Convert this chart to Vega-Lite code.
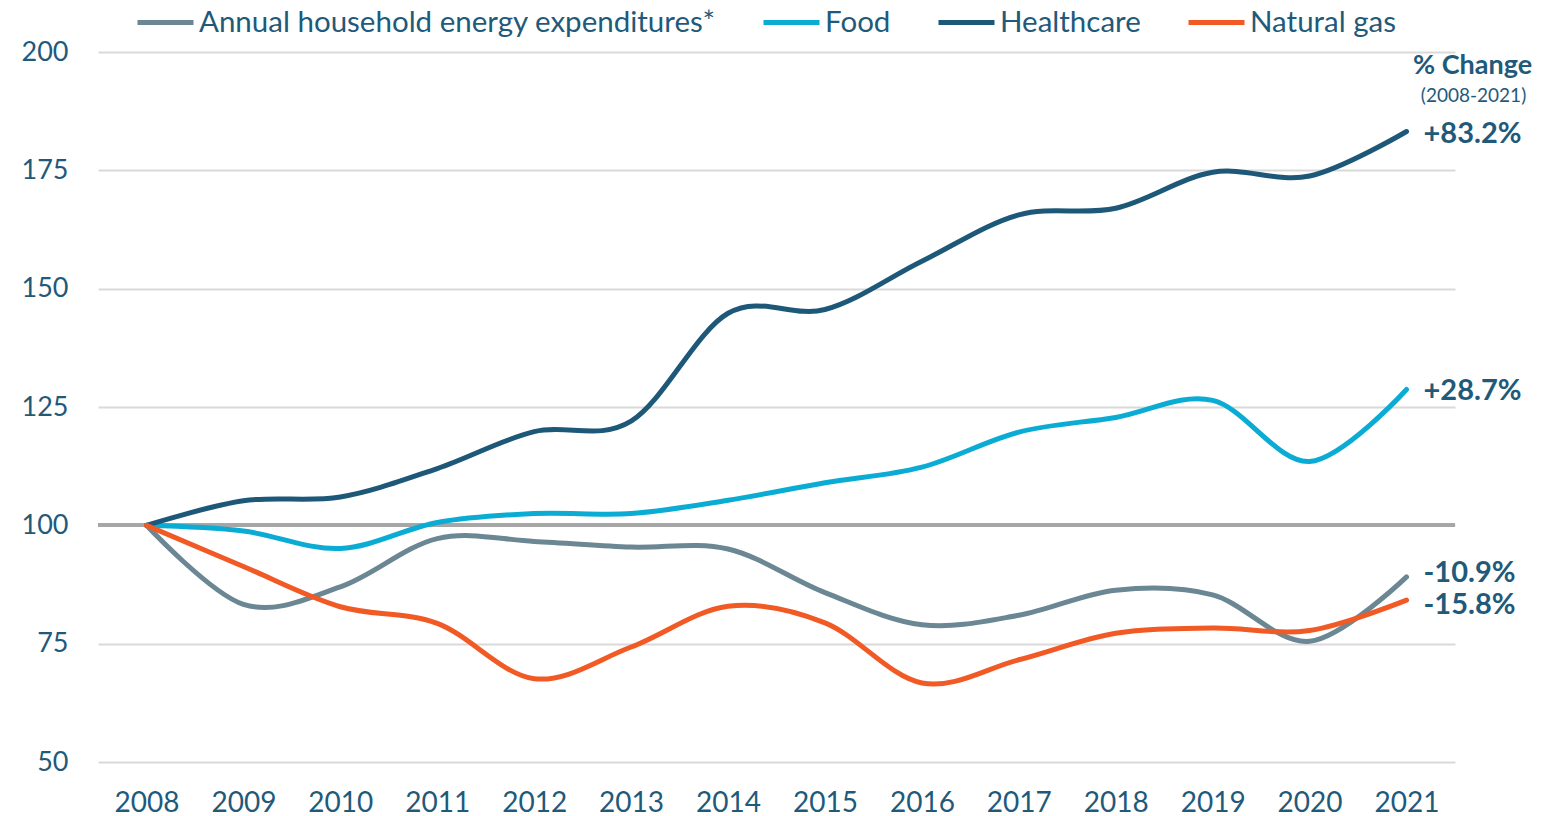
{
  "$schema": "https://vega.github.io/schema/vega-lite/v6.json",
  "width": 1357,
  "height": 710,
  "autosize": {"type": "none"},
  "padding": {"left": 98, "top": 52, "right": 100, "bottom": 54},
  "background": "white",
  "config": {
    "font": "Lato",
    "view": {"stroke": null},
    "axis": {"labelColor": "#1f5a7a", "labelFont": "Lato", "labelFontSize": 27, "ticks": false, "domain": false, "title": null}
  },
  "datasets": {
    "header": [
      {"year": "2021", "value": 197, "t": "% Change"}
    ],
    "subheader": [
      {"year": "2021", "value": 190.6, "t": "(2008-2021)"}
    ]
  },
  "data": {
    "values": [
      {"year": "2008", "series": "Annual household energy expenditures*", "value": 100, "label": ""},
      {"year": "2009", "series": "Annual household energy expenditures*", "value": 83.3, "label": ""},
      {"year": "2010", "series": "Annual household energy expenditures*", "value": 87.0, "label": ""},
      {"year": "2011", "series": "Annual household energy expenditures*", "value": 97.2, "label": ""},
      {"year": "2012", "series": "Annual household energy expenditures*", "value": 96.6, "label": ""},
      {"year": "2013", "series": "Annual household energy expenditures*", "value": 95.4, "label": ""},
      {"year": "2014", "series": "Annual household energy expenditures*", "value": 95.0, "label": ""},
      {"year": "2015", "series": "Annual household energy expenditures*", "value": 85.8, "label": ""},
      {"year": "2016", "series": "Annual household energy expenditures*", "value": 79.0, "label": ""},
      {"year": "2017", "series": "Annual household energy expenditures*", "value": 81.0, "label": ""},
      {"year": "2018", "series": "Annual household energy expenditures*", "value": 86.3, "label": ""},
      {"year": "2019", "series": "Annual household energy expenditures*", "value": 85.3, "label": ""},
      {"year": "2020", "series": "Annual household energy expenditures*", "value": 75.5, "label": ""},
      {"year": "2021", "series": "Annual household energy expenditures*", "value": 89.1, "label": "-10.9%"},
      {"year": "2008", "series": "Food", "value": 100, "label": ""},
      {"year": "2009", "series": "Food", "value": 98.8, "label": ""},
      {"year": "2010", "series": "Food", "value": 95.1, "label": ""},
      {"year": "2011", "series": "Food", "value": 100.6, "label": ""},
      {"year": "2012", "series": "Food", "value": 102.5, "label": ""},
      {"year": "2013", "series": "Food", "value": 102.5, "label": ""},
      {"year": "2014", "series": "Food", "value": 105.3, "label": ""},
      {"year": "2015", "series": "Food", "value": 109.0, "label": ""},
      {"year": "2016", "series": "Food", "value": 112.3, "label": ""},
      {"year": "2017", "series": "Food", "value": 119.7, "label": ""},
      {"year": "2018", "series": "Food", "value": 122.8, "label": ""},
      {"year": "2019", "series": "Food", "value": 126.4, "label": ""},
      {"year": "2020", "series": "Food", "value": 113.5, "label": ""},
      {"year": "2021", "series": "Food", "value": 128.7, "label": "+28.7%"},
      {"year": "2008", "series": "Healthcare", "value": 100, "label": ""},
      {"year": "2009", "series": "Healthcare", "value": 105.2, "label": ""},
      {"year": "2010", "series": "Healthcare", "value": 106.0, "label": ""},
      {"year": "2011", "series": "Healthcare", "value": 112.0, "label": ""},
      {"year": "2012", "series": "Healthcare", "value": 119.8, "label": ""},
      {"year": "2013", "series": "Healthcare", "value": 122.0, "label": ""},
      {"year": "2014", "series": "Healthcare", "value": 144.8, "label": ""},
      {"year": "2015", "series": "Healthcare", "value": 145.6, "label": ""},
      {"year": "2016", "series": "Healthcare", "value": 155.8, "label": ""},
      {"year": "2017", "series": "Healthcare", "value": 165.6, "label": ""},
      {"year": "2018", "series": "Healthcare", "value": 167.0, "label": ""},
      {"year": "2019", "series": "Healthcare", "value": 174.6, "label": ""},
      {"year": "2020", "series": "Healthcare", "value": 173.8, "label": ""},
      {"year": "2021", "series": "Healthcare", "value": 183.2, "label": "+83.2%"},
      {"year": "2008", "series": "Natural gas", "value": 100, "label": ""},
      {"year": "2009", "series": "Natural gas", "value": 91.3, "label": ""},
      {"year": "2010", "series": "Natural gas", "value": 82.8, "label": ""},
      {"year": "2011", "series": "Natural gas", "value": 79.3, "label": ""},
      {"year": "2012", "series": "Natural gas", "value": 67.6, "label": ""},
      {"year": "2013", "series": "Natural gas", "value": 74.3, "label": ""},
      {"year": "2014", "series": "Natural gas", "value": 82.9, "label": ""},
      {"year": "2015", "series": "Natural gas", "value": 79.4, "label": ""},
      {"year": "2016", "series": "Natural gas", "value": 66.7, "label": ""},
      {"year": "2017", "series": "Natural gas", "value": 71.6, "label": ""},
      {"year": "2018", "series": "Natural gas", "value": 77.2, "label": ""},
      {"year": "2019", "series": "Natural gas", "value": 78.3, "label": ""},
      {"year": "2020", "series": "Natural gas", "value": 77.8, "label": ""},
      {"year": "2021", "series": "Natural gas", "value": 84.2, "label": "-15.8%"}
    ]
  },
  "encoding": {
    "x": {"field": "year", "type": "ordinal", "scale": {"type": "point", "padding": 0.5},
      "axis": {"labelAngle": 0, "labelPadding": 27, "labelFontSize": 28, "grid": false}},
    "y": {"field": "value", "type": "quantitative",
      "scale": {"domain": [50, 200], "zero": false, "nice": false},
      "axis": {"values": [50, 75, 100, 125, 150, 175, 200], "grid": true, "gridColor": "#d9d9d9", "gridWidth": 2, "labelPadding": 30}}
  },
  "layer": [
    {
      "mark": {"type": "rule", "color": "#a6a6a6", "strokeWidth": 3},
      "encoding": {"y": {"datum": 100}, "x": null}
    },
    {
      "mark": {"type": "line", "interpolate": "cardinal", "strokeWidth": 5, "strokeCap": "round"},
      "encoding": {
        "color": {"field": "series", "type": "nominal",
          "scale": {"domain": ["Annual household energy expenditures*", "Food", "Healthcare", "Natural gas"],
                    "range": ["#6b8793", "#0bacd4", "#1d5878", "#f15a24"]},
          "legend": {"orient": "none", "legendX": 37, "legendY": -60, "direction": "horizontal", "title": null,
            "symbolType": "stroke", "symbolStrokeWidth": 5, "symbolSize": 3136, "labelFont": "Lato",
            "labelFontSize": 29.5, "labelColor": "#1f5a7a", "labelOffset": 3, "columnPadding": 37, "labelLimit": 800}}
      }
    },
    {
      "transform": [{"filter": "datum.series === 'Healthcare' || datum.series === 'Food'"}],
      "mark": {"type": "text", "align": "left", "baseline": "middle", "dx": 17, "dy": 2, "fontSize": 29, "fontWeight": "bold", "color": "#1f5a7a", "font": "Lato"},
      "encoding": {"text": {"field": "label"}}
    },
    {
      "transform": [{"filter": "datum.series === 'Annual household energy expenditures*'"}],
      "mark": {"type": "text", "align": "left", "baseline": "middle", "dx": 17, "dy": -4, "fontSize": 29, "fontWeight": "bold", "color": "#1f5a7a", "font": "Lato"},
      "encoding": {"text": {"field": "label"}}
    },
    {
      "transform": [{"filter": "datum.series === 'Natural gas'"}],
      "mark": {"type": "text", "align": "left", "baseline": "middle", "dx": 17, "dy": 5, "fontSize": 29, "fontWeight": "bold", "color": "#1f5a7a", "font": "Lato"},
      "encoding": {"text": {"field": "label"}}
    },
    {
      "data": {"name": "header"},
      "mark": {"type": "text", "align": "center", "baseline": "middle", "dx": 66, "fontSize": 27, "fontWeight": "bold", "color": "#1f5a7a", "font": "Lato"},
      "encoding": {"text": {"field": "t"}}
    },
    {
      "data": {"name": "subheader"},
      "mark": {"type": "text", "align": "center", "baseline": "middle", "dx": 67, "fontSize": 19, "color": "#1f5a7a", "font": "Lato"},
      "encoding": {"text": {"field": "t"}}
    }
  ]
}
